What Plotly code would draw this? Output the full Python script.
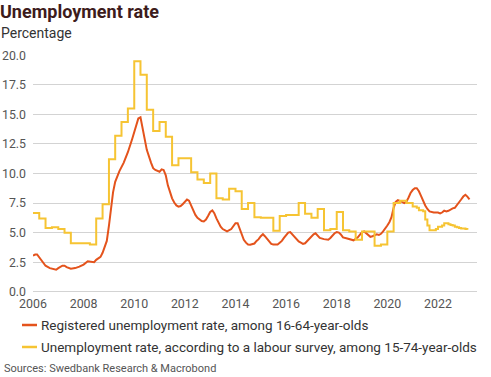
import plotly.graph_objects as go

# ---------------- data ----------------
red_dates = [
    "2006-01", "2006-02", "2006-03", "2006-04", "2006-05", "2006-06", "2006-07", "2006-09", "2006-11", "2006-12",
    "2007-01", "2007-03", "2007-04", "2007-05", "2007-07", "2007-09", "2007-11",
    "2008-01", "2008-03", "2008-05", "2008-06", "2008-07", "2008-09", "2008-10", "2008-11", "2008-12",
    "2009-01", "2009-02", "2009-03", "2009-04", "2009-06", "2009-08", "2009-10", "2009-12",
    "2010-02", "2010-03", "2010-04", "2010-05", "2010-06", "2010-07", "2010-09", "2010-10", "2010-11", "2010-12",
    "2011-01", "2011-02", "2011-03", "2011-04", "2011-05", "2011-06", "2011-07", "2011-08", "2011-09", "2011-10", "2011-11", "2011-12",
    "2012-01", "2012-02", "2012-03", "2012-04", "2012-05", "2012-06", "2012-07", "2012-09", "2012-10", "2012-11", "2012-12",
    "2013-01", "2013-02", "2013-03", "2013-04", "2013-05", "2013-06", "2013-07", "2013-09", "2013-11", "2013-12",
    "2014-01", "2014-02", "2014-03", "2014-04", "2014-05", "2014-06", "2014-07", "2014-08", "2014-09", "2014-10", "2014-11", "2014-12",
    "2015-01", "2015-02", "2015-03", "2015-04", "2015-05", "2015-06", "2015-07", "2015-08", "2015-09", "2015-10", "2015-11", "2015-12",
    "2016-01", "2016-02", "2016-03", "2016-04", "2016-05", "2016-06", "2016-07", "2016-08", "2016-09", "2016-10", "2016-11", "2016-12",
    "2017-01", "2017-02", "2017-03", "2017-04", "2017-05", "2017-07", "2017-09", "2017-10", "2017-11", "2017-12",
    "2018-01", "2018-02", "2018-03", "2018-04", "2018-06", "2018-08", "2018-09", "2018-11", "2018-12",
    "2019-01", "2019-02", "2019-03", "2019-04", "2019-05", "2019-06", "2019-07", "2019-08", "2019-09", "2019-10", "2019-11", "2019-12",
    "2020-01", "2020-02", "2020-03", "2020-04", "2020-05", "2020-06", "2020-07", "2020-08", "2020-09", "2020-10", "2020-11", "2020-12",
    "2021-01", "2021-02", "2021-03", "2021-04", "2021-05", "2021-06", "2021-07", "2021-08", "2021-09", "2021-11",
    "2022-01", "2022-02", "2022-03", "2022-04", "2022-05", "2022-06", "2022-07", "2022-08", "2022-09", "2022-10", "2022-11", "2022-12",
    "2023-01", "2023-02", "2023-03", "2023-04",
]
red_values = [
    3.05, 3.15, 3.15, 2.9, 2.65, 2.4, 2.2, 2.0, 1.88, 1.86,
    2.0, 2.2, 2.2, 2.08, 1.95, 2.0, 2.12,
    2.3, 2.58, 2.55, 2.5, 2.7, 2.95, 3.3, 3.8, 4.3,
    5.6, 7.2, 8.4, 9.3, 10.2, 10.9, 11.8, 12.9,
    14.1, 14.65, 14.75, 13.9, 12.9, 12.0, 10.9, 10.45, 10.3, 10.2,
    10.15, 10.35, 10.3, 9.85, 9.0, 8.45, 7.9, 7.55, 7.3, 7.2, 7.25, 7.4,
    7.6, 7.8, 7.7, 7.25, 6.8, 6.5, 6.25, 5.98, 5.94, 6.1, 6.4,
    6.75, 6.88, 6.65, 6.2, 5.8, 5.5, 5.3, 5.1, 5.3, 5.6,
    5.8, 5.8, 5.4, 4.9, 4.4, 4.15, 4.0, 3.97, 4.0, 4.08, 4.3, 4.45,
    4.7, 4.87, 4.7, 4.5, 4.25, 4.05, 4.0, 3.97, 4.0, 4.15, 4.3, 4.55,
    4.8, 5.0, 5.05, 4.85, 4.65, 4.45, 4.25, 4.15, 4.05, 4.1, 4.3, 4.45,
    4.65, 4.85, 4.95, 4.7, 4.55, 4.45, 4.4, 4.55, 4.75, 4.95,
    5.05, 5.0, 4.85, 4.6, 4.5, 4.4, 4.35, 4.6, 4.85,
    5.05, 5.1, 4.95, 4.75, 4.65, 4.7, 4.8, 4.85, 4.8, 4.9, 5.1, 5.3,
    5.6, 5.9, 6.3, 7.1, 7.6, 7.75, 7.7, 7.6, 7.5, 7.6, 7.95, 8.35,
    8.6, 8.75, 8.75, 8.5, 8.1, 7.6, 7.3, 7.0, 6.8, 6.7,
    6.7, 6.62, 6.7, 6.86, 6.8, 6.85, 6.98, 7.05, 7.1, 7.3, 7.55, 7.8,
    8.05, 8.2, 8.05, 7.82,
]

yellow_dates = [
    "2006-01", "2006-04", "2006-07", "2006-10",
    "2007-01", "2007-04", "2007-07", "2007-10",
    "2008-01", "2008-04", "2008-07", "2008-10",
    "2009-01", "2009-04", "2009-07", "2009-10",
    "2010-01", "2010-04", "2010-07", "2010-10",
    "2011-01", "2011-04", "2011-07", "2011-10",
    "2012-01", "2012-04", "2012-07", "2012-10",
    "2013-01", "2013-04", "2013-07", "2013-10",
    "2014-01", "2014-04", "2014-07", "2014-10",
    "2015-01", "2015-04", "2015-07", "2015-10",
    "2016-01", "2016-04", "2016-07", "2016-10",
    "2017-01", "2017-04", "2017-07", "2017-10",
    "2018-01", "2018-04", "2018-07", "2018-10",
    "2019-01", "2019-04", "2019-07", "2019-10",
    "2020-01", "2020-04", "2020-07", "2020-10",
    "2021-01", "2021-02", "2021-03", "2021-04", "2021-05", "2021-06",
    "2021-07", "2021-08", "2021-09", "2021-10", "2021-11", "2021-12",
    "2022-01", "2022-02", "2022-03", "2022-04", "2022-05", "2022-06",
    "2022-07", "2022-08", "2022-09", "2022-10", "2022-11", "2022-12",
    "2023-01", "2023-02", "2023-03",
]
yellow_values = [
    6.65, 6.2, 5.4, 5.45,
    5.3, 5.0, 4.1, 4.1,
    4.1, 4.0, 6.2, 7.4,
    11.2, 13.2, 14.35, 15.5,
    19.5, 18.35, 15.4, 13.6,
    14.35, 13.1, 10.7, 11.3,
    11.3, 10.1, 9.5, 9.2,
    10.0, 7.9, 7.8, 8.7,
    8.5, 7.0, 7.5, 6.3,
    6.25, 6.25, 5.15, 6.4,
    6.5, 6.5, 7.5, 6.6,
    6.25, 7.0, 5.2, 5.3,
    6.75, 5.2, 5.1, 4.4,
    5.1, 5.1, 3.9, 4.0,
    5.1, 7.5, 7.7, 7.5,
    7.2, 7.2, 7.1, 6.9, 6.9, 6.8,
    6.1, 5.6, 5.2, 5.2, 5.2, 5.3,
    5.5, 5.5, 5.6, 5.8, 5.8, 5.7,
    5.65, 5.6, 5.5, 5.45, 5.4, 5.35,
    5.35, 5.3, 5.25,
]

red_name = "Registered unemployment rate, among 16-64-year-olds"
yellow_name = "Unemployment rate, according to a labour survey, among 15-74-year-olds"
title_text = "Unemployment rate"
subtitle_text = "Percentage"
source_text = "Sources: Swedbank Research & Macrobond"
y_ticks = [0, 2.5, 5, 7.5, 10, 12.5, 15, 17.5, 20]

RED = "#e4531c"
YELLOW = "#f6c433"
FONT = "Roboto"

# ---------------- figure ----------------
W, H = 491, 377
L, R, T, B = 33, 14, 55, 85
ph = H - T - B
pw = W - L - R


def px_y(y):
    return (H - B - y) / ph


def px_x(x):
    return (x - L) / pw


fig = go.Figure()
fig.add_trace(go.Scatter(
    x=red_dates, y=red_values, name=red_name, mode="lines",
    line=dict(color=RED, width=2),
))
fig.add_trace(go.Scatter(
    x=yellow_dates, y=yellow_values, name=yellow_name, mode="lines",
    line=dict(color=YELLOW, width=2, shape="hv"),
))

# legend drawn as key lines + labels beneath the plot
legend_rows = [(red_name, RED, 325), (yellow_name, YELLOW, 347)]
shapes = []
annotations = []
for name, color, ypx in legend_rows:
    shapes.append(dict(type="line", xref="paper", yref="paper",
                       x0=px_x(22), x1=px_x(37), y0=px_y(ypx), y1=px_y(ypx),
                       line=dict(color=color, width=2.5)))
    annotations.append(dict(text=name, xref="paper", yref="paper",
                            x=px_x(38.5), y=px_y(ypx), xanchor="left", yanchor="middle",
                            showarrow=False,
                            font=dict(family=FONT, size=13.5, color="#333333")))

annotations += [
    dict(text=subtitle_text, xref="paper", yref="paper",
         x=px_x(-1), y=px_y(33), xanchor="left", yanchor="middle",
         showarrow=False, font=dict(family=FONT, size=14, color="#333333")),
    dict(text=source_text, xref="paper", yref="paper",
         x=px_x(1.5), y=px_y(368), xanchor="left", yanchor="middle",
         showarrow=False, font=dict(family=FONT, size=11, color="#555555")),
]

fig.update_layout(
    width=W, height=H,
    margin=dict(l=L, r=R, t=T, b=B, autoexpand=False),
    paper_bgcolor="white", plot_bgcolor="white",
    font=dict(family=FONT, color="#555555", size=12),
    title=dict(
        text="<b>" + title_text + "</b>",
        font=dict(family=FONT, size=18, color="#3d1c1c"),
        x=0.0, xref="container", xanchor="left",
        y=1 - 12 / H, yref="container", yanchor="middle",
        pad=dict(l=0, t=0, b=0, r=0),
    ),
    showlegend=False,
    shapes=shapes,
    annotations=annotations,
)

fig.update_xaxes(
    type="date",
    range=["2006-01-01", "2023-07-18"],
    tick0="2006-01-01", dtick="M24", tickformat="%Y",
    showgrid=False, showline=False, zeroline=False,
    ticks="", ticklabelstandoff=3,
    tickfont=dict(family=FONT, size=12.4, color="#555555"),
)
fig.update_yaxes(
    range=[-0.02, 20.02],
    tickvals=y_ticks, tickformat=".1f",
    showgrid=True, gridcolor="#d3d3d3", gridwidth=1,
    zeroline=True, zerolinecolor="#d3d3d3", zerolinewidth=1,
    showline=False, ticks="", ticklabelstandoff=6,
    tickfont=dict(family=FONT, size=12.3, color="#555555"),
)

fig.write_html(
    "out.html",
    config={"displayModeBar": False},
    post_script="document.body.style.margin='0px';document.body.style.overflow='hidden';",
)
